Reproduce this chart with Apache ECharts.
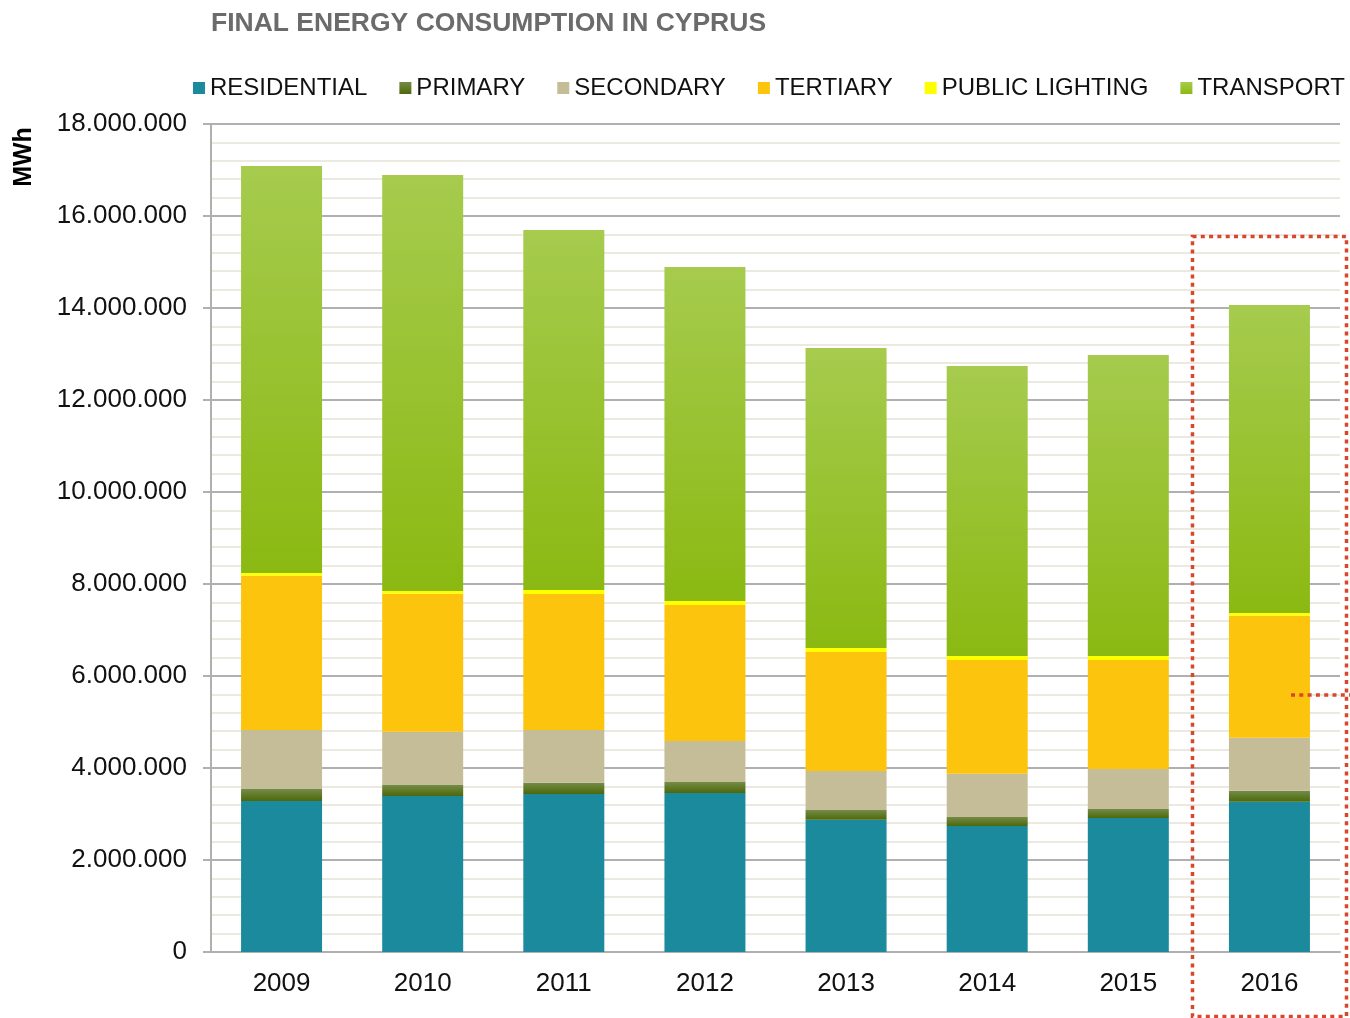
<!DOCTYPE html>
<html>
<head>
<meta charset="utf-8">
<title>Final energy consumption in Cyprus</title>
<script src="https://cdn.jsdelivr.net/npm/echarts@6/dist/echarts.min.js"></script>
<style>
  html, body { margin: 0; padding: 0; background: #fff; }
  #chart { width: 1350px; height: 1018px; }
</style>
</head>
<body>
<div id="chart"></div>
<script>
const years = ['2009', '2010', '2011', '2012', '2013', '2014', '2015', '2016']

// MWh
const residential    = [3283000, 3391000, 3435000, 3457000, 2876000, 2739000, 2913000, 3267000]
const primary        = [260000, 239000, 245000, 239000, 211000, 196000, 196000, 240000]
const secondary      = [1283000, 1159000, 1146000, 891000, 848000, 941000, 869000, 1152000]
const tertiary       = [3354000, 3000000, 2957000, 2956000, 2587000, 2472000, 2370000, 2652000]
const publicLighting = [59000, 59000, 87000, 87000, 87000, 87000, 87000, 59000]
const transport      = [8848000, 9043000, 7826000, 7261000, 6521000, 6304000, 6543000, 6695000]

const FONT = "'Liberation Sans', Arial, sans-serif"

function grad(top, bottom) {
  return new echarts.graphic.LinearGradient(0, 0, 0, 1, [
    { offset: 0, color: top },
    { offset: 1, color: bottom }
  ])
}

function fmt(v) {
  return String(v).replace(/\B(?=(\d{3})+(?!\d))/g, '.')
}

function bar(name, data, color) {
  return {
    name,
    type: 'bar',
    stack: 'total',
    data,
    barWidth: 81,
    itemStyle: { color },
    emphasis: { disabled: true }
  }
}

const chart = echarts.init(document.getElementById('chart'))

chart.setOption({
  animation: false,
  backgroundColor: '#fff',
  title: {
    text: 'FINAL ENERGY CONSUMPTION IN CYPRUS',
    left: 206,
    top: 5,
    textStyle: { fontFamily: FONT, fontSize: 26.5, fontWeight: 'bold', color: '#6b6b6b' }
  },
  legend: {
    left: 188,
    top: 71,
    itemWidth: 12,
    itemHeight: 12,
    itemGap: 32,
    icon: 'rect',
    textStyle: { fontFamily: FONT, fontSize: 24, color: '#111' },
    data: ['RESIDENTIAL', 'PRIMARY', 'SECONDARY', 'TERTIARY', 'PUBLIC LIGHTING', 'TRANSPORT']
  },
  grid: { left: 211, right: 10, top: 124, bottom: 66, containLabel: false },
  xAxis: {
    type: 'category',
    data: years,
    axisLine: { show: true, lineStyle: { color: '#b0b0b0', width: 2 } },
    axisTick: { show: false },
    axisLabel: { fontFamily: FONT, fontSize: 26, color: '#111', margin: 19 }
  },
  yAxis: {
    type: 'value',
    min: 0,
    max: 18000000,
    interval: 2000000,
    axisLine: { show: true, lineStyle: { color: '#b0b0b0', width: 2 } },
    axisTick: { show: true, length: 8, lineStyle: { color: '#b0b0b0', width: 2 } },
    axisLabel: { fontFamily: FONT, fontSize: 26, color: '#111', margin: 24, formatter: fmt },
    splitLine: { show: true, lineStyle: { color: '#b0b0b0', width: 2 } },
    minorTick: { show: false, splitNumber: 5 },
    minorSplitLine: { show: true, lineStyle: { color: '#ece9e1', width: 2 } }
  },
  series: [
    bar('RESIDENTIAL', residential, '#1b8a9c'),
    bar('PRIMARY', primary, grad('#748c48', '#4d680a')),
    bar('SECONDARY', secondary, '#c5bd98'),
    bar('TERTIARY', tertiary, '#fcc40c'),
    bar('PUBLIC LIGHTING', publicLighting, '#ffff00'),
    bar('TRANSPORT', transport, grad('#a6cb4e', '#8bb912'))
  ],
  graphic: [
    {
      type: 'text',
      x: 24,
      y: 157,
      rotation: Math.PI / 2,
      style: {
        text: 'MWh',
        font: 'bold 25px ' + FONT,
        fill: '#000',
        textAlign: 'center',
        textVerticalAlign: 'middle'
      }
    },
    {
      type: 'rect',
      z: 100,
      shape: { x: 1192.5, y: 236.5, width: 154, height: 780 },
      style: { fill: 'none', stroke: '#d9472b', lineWidth: 3.5, lineDash: [4, 4.3] }
    },
    {
      type: 'line',
      z: 100,
      shape: { x1: 1291, y1: 695, x2: 1350, y2: 695 },
      style: { stroke: '#d9472b', lineWidth: 3.5, lineDash: [4, 4.3] }
    }
  ]
})
</script>
</body>
</html>
